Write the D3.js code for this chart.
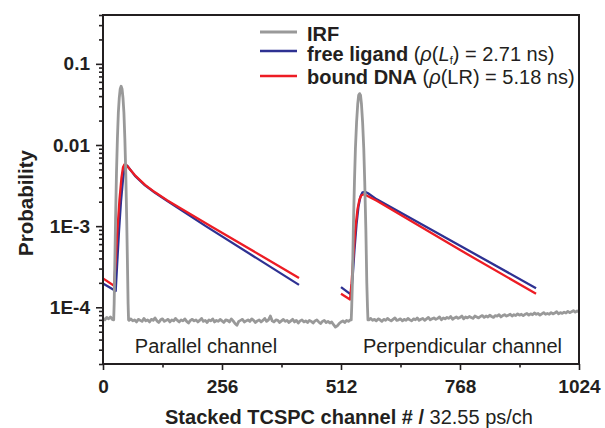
<!DOCTYPE html>
<html><head><meta charset="utf-8">
<script src="https://cdn.jsdelivr.net/npm/d3@7"></script>
<style>
body{margin:0;background:#fff}
svg{display:block}
text{font-family:"Liberation Sans",Arial,Helvetica,sans-serif}
</style></head>
<body><svg id="chart" width="605" height="428"></svg>
<script>
// ---------------- DATA ----------------
const xTickValues = [0, 256, 512, 768, 1024];
const xTickLabels = ["0", "256", "512", "768", "1024"];
const xMinorTicks = [128, 384, 640, 896];
const yTickValues = [0.1, 0.01, 1e-3, 1e-4];
const yTickLabels = ["0.1", "0.01", "1E-3", "1E-4"];
const yMinorTicks = [2e-5,3e-5,4e-5,5e-5,6e-5,7e-5,8e-5,9e-5,
  2e-4,3e-4,4e-4,5e-4,6e-4,7e-4,8e-4,9e-4,
  2e-3,3e-3,4e-3,5e-3,6e-3,7e-3,8e-3,9e-3,
  0.02,0.03,0.04,0.05,0.06,0.07,0.08,0.09,0.2,0.3,0.4];

const seriesNames = ["IRF", "free ligand", "bound DNA"];

// IRF baseline (values x 1e-5), sampled every 4 channels
const irfStep = 4;
const irfBase1Start = 0;
const irfBase1 = [7.3, 7.0, 7.5, 7.2, 7.6, 7.1];
const irfPeak1 = [[23,7e-5],[24,1.1e-4],[25,2.5e-4],[27,1.2e-3],[29,4.5e-3],[31,0.012],[33,0.025],[35,0.038],[37,0.049],[39,0.053],[41,0.049],[43,0.038],[45,0.025],[47,0.012],[49,4.5e-3],[51,1.2e-3],[53,2.5e-4],[54,1.1e-4],[55,7e-5]];
const irfBase2Start = 56;
const irfBase2 = [
  6.9,7.2,6.8,7.0,6.6,7.1,6.9,6.7,7.3,6.8,7.0,6.6,
  7.1,6.9,7.4,6.8,6.5,7.0,7.2,6.7,6.9,7.1,6.6,7.0,
  6.8,7.3,6.9,6.6,7.0,6.8,7.2,6.7,6.4,6.9,7.1,6.8,
  7.0,6.6,6.9,7.3,6.7,6.9,6.5,7.0,6.8,7.2,6.6,6.9,
  6.7,7.1,6.8,6.5,7.0,6.9,6.6,7.2,6.8,6.3,6.0,6.7,
  6.9,7.1,6.6,6.8,7.0,6.7,7.2,6.9,6.5,6.8,7.0,6.6,
  6.9,7.3,6.7,7.0,7.8,6.8,6.6,7.0,6.9,6.5,6.8,7.1,
  6.7,6.9,6.5,6.8,7.1,6.6,6.9,6.4,6.8,7.0,6.6,6.8,
  6.5,6.9,6.7,6.4,6.8,7.0,6.6,6.3,6.7,6.9,6.5,6.7,
  6.4,6.6,6.1,5.7,5.9,6.3,6.6,6.8,6.5,6.9,6.7,7.0];
const irfPeak2 = [[534,7e-5],[535,1.0e-4],[536.5,2.0e-4],[538.5,9e-4],[541,3.6e-3],[543,9e-3],[545.5,0.019],[548,0.032],[550,0.041],[552,0.043],[554,0.041],[556,0.032],[558.5,0.019],[561,9e-3],[563,3.6e-3],[565.5,9e-4],[567.5,2.0e-4],[569,1.0e-4],[570,7e-5]];
const irfBase3Start = 572;
const irfBase3 = [
  7.0,7.3,6.9,7.1,6.8,7.2,7.0,6.7,7.1,6.9,7.3,7.0,
  6.8,7.1,7.4,6.9,7.0,7.2,6.8,7.1,6.9,7.3,7.0,6.8,
  7.2,7.0,7.4,6.9,7.1,7.3,6.9,7.2,7.5,7.0,7.2,7.4,
  7.1,7.3,7.6,7.0,7.4,7.2,7.5,7.3,7.7,7.1,7.4,7.6,
  7.3,7.5,7.8,7.2,7.6,7.4,7.7,7.5,7.3,7.8,7.6,7.4,
  7.7,7.9,7.5,7.8,7.6,8.0,7.7,7.5,7.9,7.8,8.1,7.6,
  7.9,8.1,7.8,8.0,8.2,7.8,8.1,7.9,8.3,8.0,8.2,7.9,
  8.2,8.4,8.0,8.3,8.1,8.5,8.2,8.4,8.0,8.3,8.6,8.2,
  8.4,8.2,8.6,8.3,8.5,8.8,8.3,8.6,8.4,8.7,8.5,8.9,
  8.6,8.8,9.1,8.7,9.0,8.8];

// free ligand (blue): [channel, probability]
const blueParallel = [[0,1.97e-4],[27.3,1.59e-4],[30.1,3.14e-4],[34.4,8.69e-4],[38.7,2.03e-3],[43.0,3.78e-3],[46.3,5.0e-3],[49.5,5.6e-3],[52.7,5.52e-3],[68.8,4.17e-3],[90.4,3.18e-3],[111.9,2.58e-3],[137.7,2.06e-3],[221,1.0e-3],[421.7,1.89e-4]];
const bluePerpendicular = [[512,1.77e-4],[532.9,1.44e-4],[536.8,2.24e-4],[541.1,5.22e-4],[545.4,1.06e-3],[549.7,1.76e-3],[554.0,2.33e-3],[558.3,2.61e-3],[563.7,2.65e-3],[570.1,2.54e-3],[588.9,2.14e-3],[770.2,5.65e-4],[931.6,1.72e-4]];
// bound DNA (red)
const redParallel = [[0,2.27e-4],[23.7,1.84e-4],[26.9,3.42e-4],[31.2,9.19e-4],[35.5,2.14e-3],[39.8,3.99e-3],[43.0,5.30e-3],[46.3,5.77e-3],[49.5,5.69e-3],[68.8,4.23e-3],[90.4,3.23e-3],[111.9,2.61e-3],[137.7,2.09e-3],[232,1.0e-3],[421.7,2.30e-4]];
const redPerpendicular = [[512,1.47e-4],[531.4,1.25e-4],[534.6,1.94e-4],[538.9,4.53e-4],[543.2,9.73e-4],[547.5,1.62e-3],[551.8,2.14e-3],[556.1,2.40e-3],[561.5,2.47e-3],[568.0,2.37e-3],[588.9,2.05e-3],[770.2,5.0e-4],[931.6,1.47e-4]];

// ---------------- CHART ----------------
const svg = d3.select("#chart");
const L = 103, R = 579, T = 15, B = 364;
const x = d3.scaleLinear().domain([0, 1024]).range([L, R]);
const y = d3.scaleLog().domain([2e-5, 0.4]).range([B, T]);

const COL = {irf: "#999999", blue: "#2e3192", red: "#ed1c24"};
const INK = "#231f20";

const irf = []
  .concat(irfBase1.map((v, i) => [irfBase1Start + i * irfStep, v * 1e-5]))
  .concat(irfPeak1)
  .concat(irfBase2.map((v, i) => [irfBase2Start + i * irfStep, v * 1e-5]))
  .concat(irfPeak2)
  .concat(irfBase3.map((v, i) => [irfBase3Start + i * irfStep, v * 1e-5]));

const line = d3.line().x(d => x(d[0])).y(d => y(d[1]));

const plot = svg.append("g");
[[blueParallel, COL.blue], [bluePerpendicular, COL.blue],
 [redParallel, COL.red], [redPerpendicular, COL.red]].forEach(([d, c]) => {
  plot.append("path").attr("d", line(d)).attr("fill", "none")
    .attr("stroke", c).attr("stroke-width", 2.3).attr("stroke-linejoin", "round");
});
plot.append("path").attr("d", line(irf)).attr("fill", "none")
  .attr("stroke", COL.irf).attr("stroke-width", 2.8).attr("stroke-linejoin", "round");

// axes
function styleAxis(g) {
  g.select(".domain").remove();
  g.selectAll(".tick line").attr("stroke", INK).attr("stroke-width", 1.6);
  g.selectAll(".tick text").attr("fill", INK).style("font-size", "19px")
    .style("font-weight", "bold").style("font-family", '"Liberation Sans",Arial,sans-serif');
}
svg.append("g").attr("transform", `translate(0,${B})`)
  .call(d3.axisBottom(x).tickValues(xTickValues).tickSize(6).tickPadding(9.5)
    .tickFormat((d, i) => xTickLabels[i])).call(styleAxis);
svg.append("g").attr("transform", `translate(0,${B})`)
  .call(d3.axisBottom(x).tickValues(xMinorTicks).tickSize(3.5).tickFormat("")).call(styleAxis);
svg.append("g").attr("transform", `translate(${L},0)`)
  .call(d3.axisLeft(y).tickValues(yTickValues).tickSize(7).tickPadding(6)
    .tickFormat((d, i) => yTickLabels[i])).call(styleAxis);
svg.append("g").attr("transform", `translate(${L},0)`)
  .call(d3.axisLeft(y).tickValues(yMinorTicks).tickSize(4).tickFormat("")).call(styleAxis);

// frame
svg.append("rect").attr("x", L).attr("y", T).attr("width", R - L).attr("height", B - T)
  .attr("fill", "none").attr("stroke", INK).attr("stroke-width", 2);

// axis titles
svg.append("text").attr("transform", "translate(33,203) rotate(-90)")
  .attr("text-anchor", "middle").style("font-size", "20.5px").style("font-weight", "bold")
  .attr("fill", INK).text("Probability");
const xt = svg.append("text").attr("x", 349).attr("y", 424).attr("text-anchor", "middle")
  .style("font-size", "20px").attr("fill", INK);
xt.append("tspan").style("font-weight", "bold").text("Stacked TCSPC channel # /");
xt.append("tspan").text(" 32.55 ps/ch");

// channel labels
svg.append("text").attr("x", 206).attr("y", 353).attr("text-anchor", "middle")
  .style("font-size", "20px").attr("fill", INK).text("Parallel channel");
svg.append("text").attr("x", 462.5).attr("y", 353).attr("text-anchor", "middle")
  .style("font-size", "20px").attr("fill", INK).text("Perpendicular channel");

// legend
const lg = svg.append("g");
const legY = [32, 51, 76], legTextY = [41, 61, 83.5];
const legCol = [COL.irf, COL.blue, COL.red];
legY.forEach((yy, i) => {
  lg.append("line").attr("x1", 260).attr("x2", 297).attr("y1", yy).attr("y2", yy)
    .attr("stroke", legCol[i]).attr("stroke-width", i === 0 ? 2.8 : 2.3);
});
const legText = (i) => lg.append("text").attr("x", 307).attr("y", legTextY[i])
  .style("font-size", "20px").attr("fill", INK);
const t0 = legText(0);
t0.append("tspan").style("font-weight", "bold").text(seriesNames[0]);
const t1 = legText(1);
t1.append("tspan").style("font-weight", "bold").text(seriesNames[1]);
t1.append("tspan").text(" (");
t1.append("tspan").style("font-style", "italic").text("ρ");
t1.append("tspan").text("(");
t1.append("tspan").style("font-style", "italic").text("L");
t1.append("tspan").style("font-size", "11px").attr("dy", 2.5).text("f");
t1.append("tspan").attr("dy", -2.5).text(") = 2.71 ns)");
const t2 = legText(2);
t2.append("tspan").style("font-weight", "bold").text(seriesNames[2]);
t2.append("tspan").text(" (");
t2.append("tspan").style("font-style", "italic").text("ρ");
t2.append("tspan").text("(LR) = 5.18 ns)");
</script></body></html>
